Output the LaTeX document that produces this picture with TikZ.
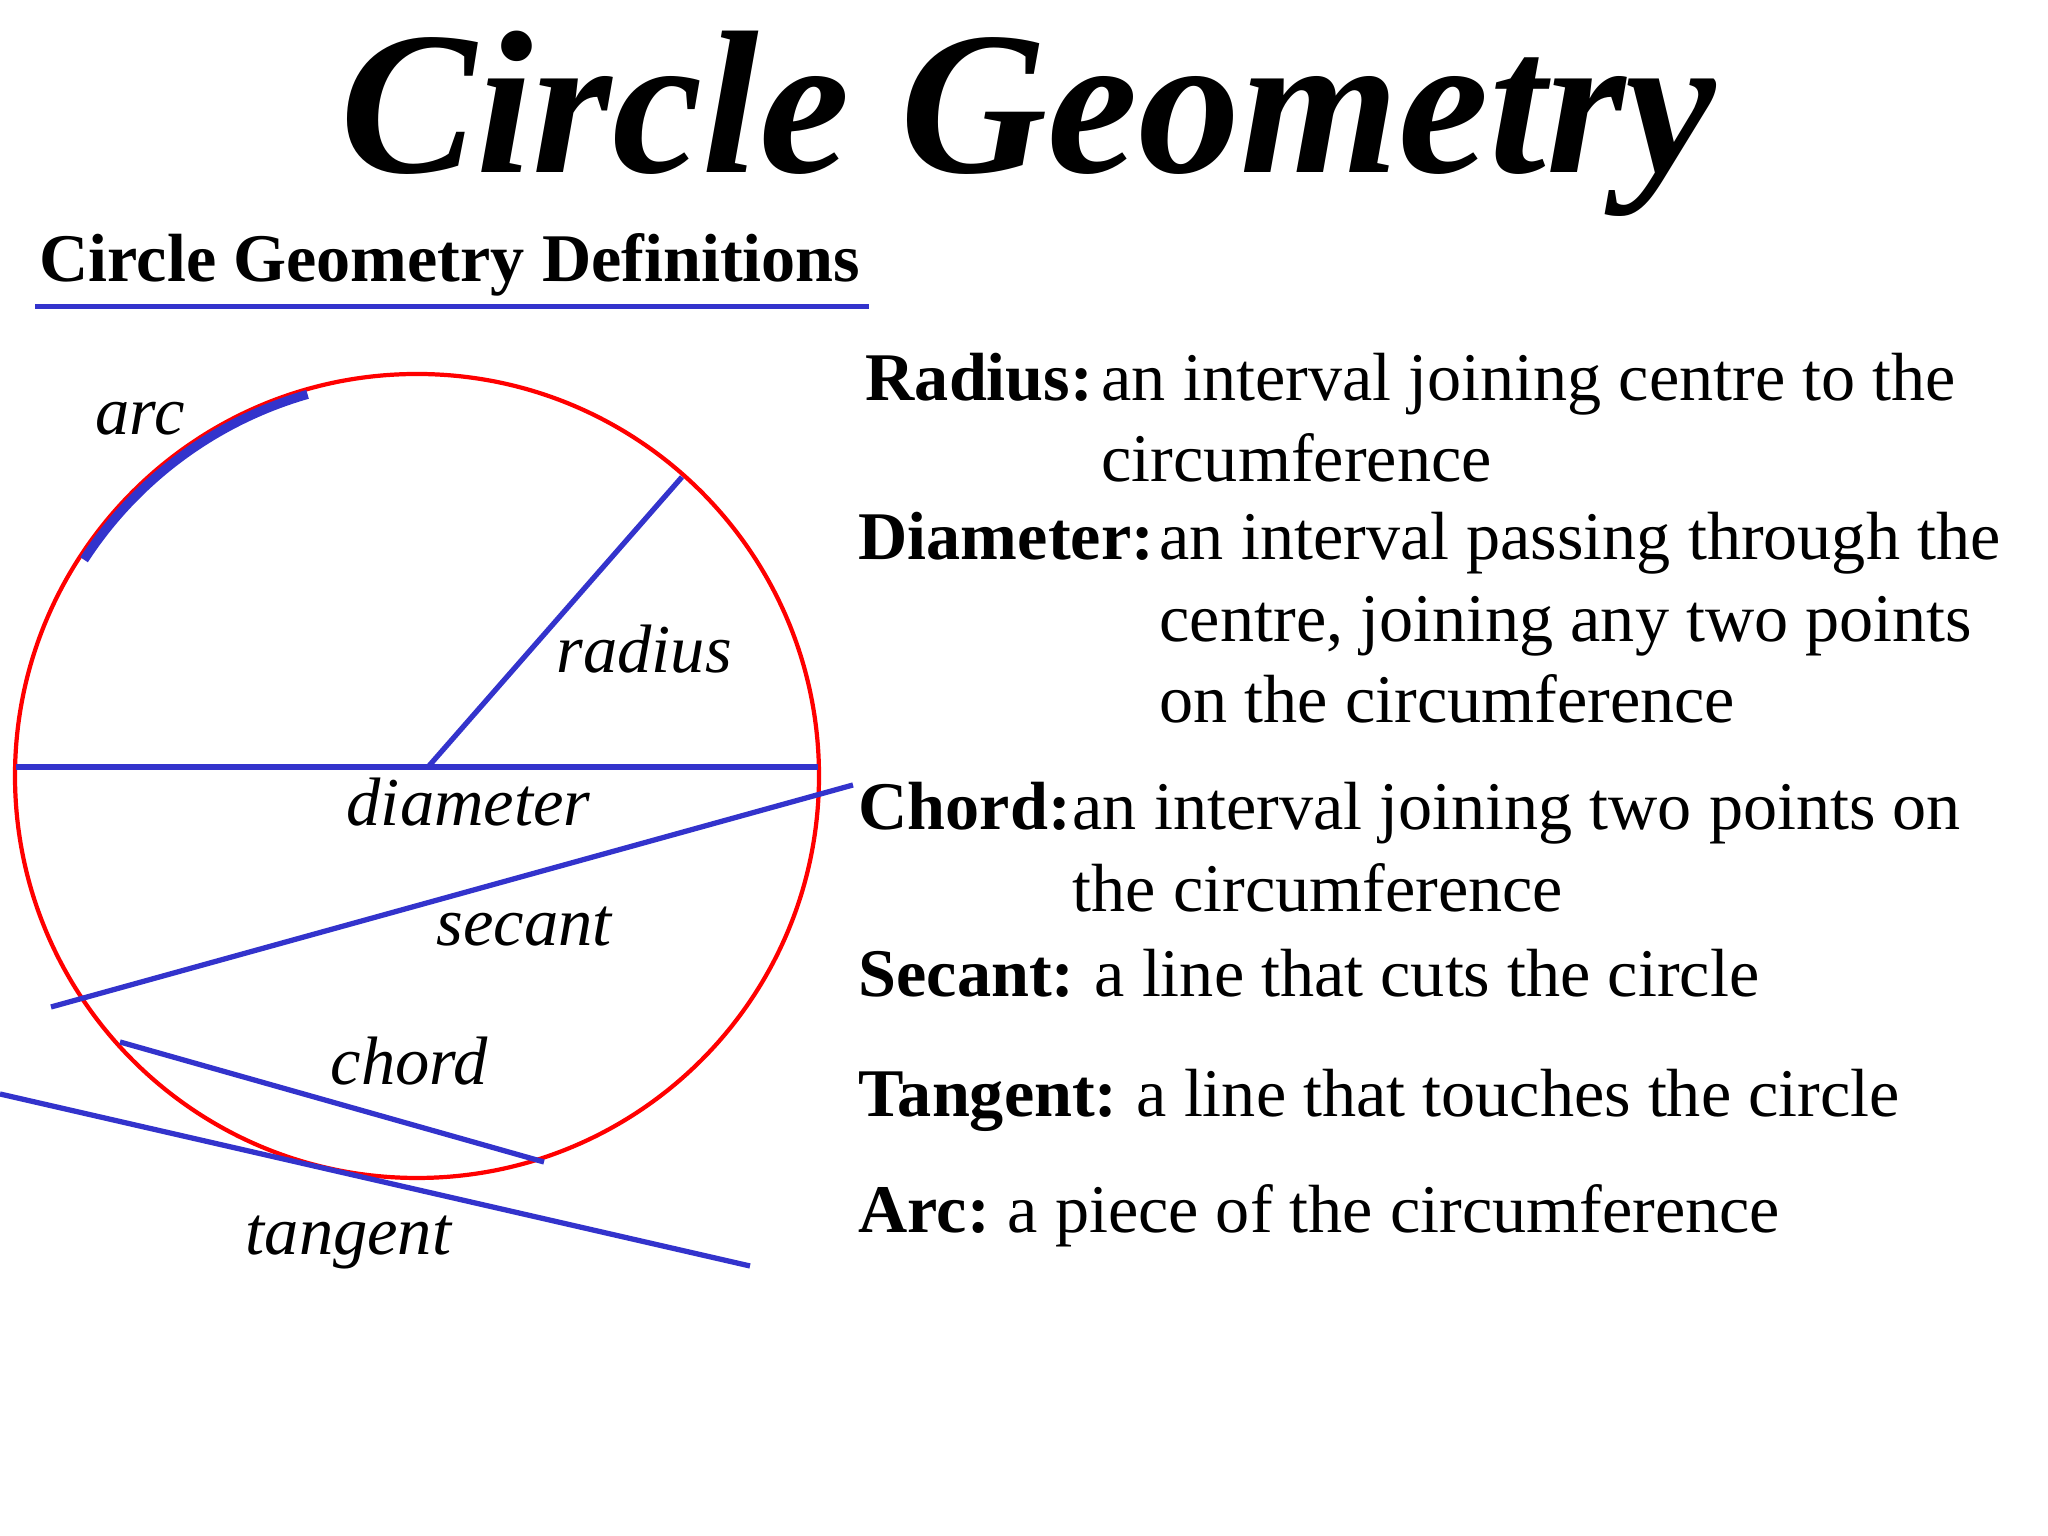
\documentclass[tikz,border=0pt]{standalone}
\usepackage{fontspec}
\setmainfont{Liberation Serif}
\usetikzlibrary{positioning}
\definecolor{partblue}{RGB}{51,51,204}
\definecolor{circred}{RGB}{255,0,0}
\tikzset{
    part/.style={draw=partblue, line width=1.5pt},
    partlabel/.style={font=\fontsize{19.5}{23}\selectfont\itshape, anchor=base west, inner sep=0pt},
    term/.style={font=\fontsize{19.4}{23}\selectfont\bfseries, anchor=base west, inner sep=0pt},
    defn/.style={font=\fontsize{19.4}{23}\selectfont, anchor=base west, inner sep=0pt}
}
\begin{document}
\begin{tikzpicture}
    \useasboundingbox (0, 0) rectangle (20.48, 15.36);
    % headings
    \node[font=\fontsize{58}{64}\selectfont\bfseries\itshape, anchor=base, inner sep=0pt] (title) at (10.28, 13.63) {Circle Geometry};
    \node[font=\fontsize{19.4}{23}\selectfont\bfseries, anchor=base west, inner sep=0pt] (subtitle) at (0.39, 12.54) {Circle Geometry Definitions};
    \coordinate (ulineL) at (0.35, 12.295);
    \coordinate (ulineR) at (8.69, 12.295);
    \draw[draw=partblue, line width=1.5pt] (ulineL) -- (ulineR);
    % circle and its parts
    \coordinate (centre) at (4.17, 7.60);
    \draw[circred, line width=1.2pt] (centre) circle (4.02);
    \coordinate (diaL) at (0.16, 7.69);
    \coordinate (diaR) at (8.18, 7.69);
    \coordinate (radO) at (4.28, 7.69);
    \coordinate (radE) at (6.82, 10.59);
    \coordinate (secL) at (0.51, 5.29);
    \coordinate (secR) at (8.53, 7.51);
    \coordinate (chdL) at (1.20, 4.94);
    \coordinate (chdR) at (5.44, 3.74);
    \coordinate (tanL) at (0, 4.42);
    \coordinate (tanR) at (7.50, 2.70);
    \draw[part] (diaL) -- (diaR);
    \draw[part] (radO) -- (radE);
    \draw[part] (secL) -- (secR);
    \draw[part] (chdL) -- (chdR);
    \draw[part] (tanL) -- (tanR);
    \draw[part, line width=2.6pt] ([shift={(147:3.97)}]centre) arc (147:106:3.97);
    \node[partlabel] (arclbl) at (0.95, 11.01) {arc};
    \node[partlabel] (radlbl) at (5.56, 8.63) {radius};
    \node[partlabel] (dialbl) at (3.46, 7.10) {diameter};
    \node[partlabel] (seclbl) at (4.36, 5.90) {secant};
    \node[partlabel] (chdlbl) at (3.30, 4.51) {chord};
    \node[partlabel] (tanlbl) at (2.45, 2.81) {tangent};
    % definitions
    \node[term] (radius) at (8.65, 11.35) {Radius:};
    \node[defn] (radius1) at (11.01, 11.35) {an interval joining centre to the};
    \node[defn] (radius2) at (11.01, 10.54) {circumference};
    \node[term] (diameter) at (8.58, 9.76) {Diameter:};
    \node[defn] (diameter1) at (11.59, 9.76) {an interval passing through the};
    \node[defn] (diameter2) at (11.59, 8.94) {centre, joining any two points};
    \node[defn] (diameter3) at (11.59, 8.13) {on the circumference};
    \node[term] (chord) at (8.58, 7.06) {Chord:};
    \node[defn] (chord1) at (10.72, 7.06) {an interval joining two points on};
    \node[defn] (chord2) at (10.72, 6.24) {the circumference};
    \node[term] (secant) at (8.58, 5.39) {Secant:};
    \node[defn] (secant1) at (10.94, 5.39) {a line that cuts the circle};
    \node[term] (tangent) at (8.58, 4.19) {Tangent:};
    \node[defn] (tangent1) at (11.36, 4.19) {a line that touches the circle};
    \node[term] (arcterm) at (8.58, 3.03) {Arc:};
    \node[defn] (arcdef) at (10.07, 3.03) {a piece of the circumference};
\end{tikzpicture}
\end{document}
